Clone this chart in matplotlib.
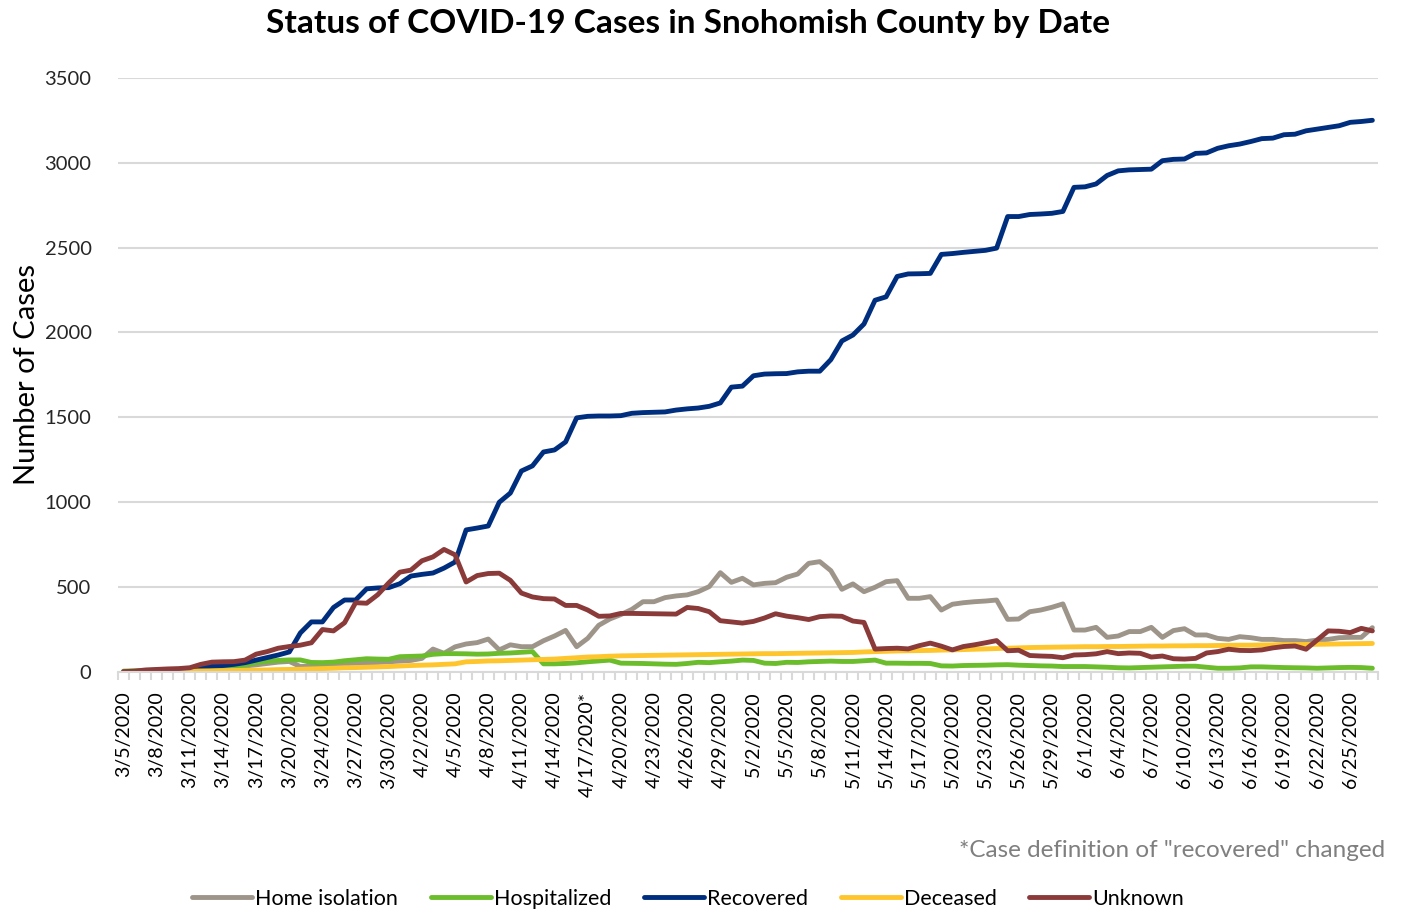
import numpy as np
import pandas as pd
import matplotlib
matplotlib.use("Agg")
import matplotlib.pyplot as plt

plt.rcParams["font.family"] = ["Lato", "DejaVu Sans"]

# dates 3/5 - 6/27 (3/22 has no report)
dates = [d for d in pd.date_range("2020-03-05", "2020-06-27") if d != pd.Timestamp("2020-03-22")]
date_labels = [f"{d.month}/{d.day}/{d.year}" for d in dates]
date_labels[date_labels.index("4/17/2020")] = "4/17/2020*"

home_isolation = [0, 1, 2, 3, 5, 8, 12, 16, 20, 25, 30, 35, 42, 50, 58, 62, 32, 35, 38, 42,
                  48, 52, 54, 56, 60, 64, 68, 80, 135, 110, 148, 165, 173, 194, 130, 160, 149, 149, 184, 212,
                  245, 149, 198, 275, 312, 338, 369, 414, 414, 438, 448, 454, 473, 503, 585, 528, 552, 513, 522, 526,
                  558, 577, 640, 650, 597, 487, 519, 473, 499, 532, 538, 434, 434, 444, 365, 399, 408, 414, 418, 424,
                  310, 312, 355, 365, 381, 401, 247, 247, 263, 204, 212, 238, 238, 263, 204, 244, 255, 218, 218, 198,
                  192, 208, 202, 192, 192, 185, 185, 179, 188, 192, 202, 204, 204, 261]
hospitalized = [5, 7, 9, 11, 13, 15, 18, 20, 24, 28, 33, 40, 55, 63, 68, 71, 71, 56, 55, 58,
                66, 72, 78, 76, 75, 90, 92, 94, 104, 108, 108, 107, 105, 106, 110, 112, 116, 120, 48, 48,
                50, 54, 60, 65, 70, 52, 51, 50, 48, 46, 45, 50, 57, 55, 60, 64, 70, 68, 52, 50,
                57, 56, 60, 62, 64, 62, 62, 66, 70, 52, 52, 51, 51, 50, 36, 35, 38, 39, 40, 42,
                43, 40, 38, 36, 35, 32, 32, 32, 30, 28, 25, 24, 26, 28, 30, 32, 34, 34, 28, 22,
                22, 24, 30, 30, 28, 26, 25, 24, 22, 24, 26, 27, 26, 22]
recovered = [0, 2, 5, 8, 10, 15, 20, 28, 33, 38, 45, 55, 70, 85, 100, 118, 230, 295, 295, 380,
             424, 424, 490, 495, 497, 520, 565, 575, 583, 612, 648, 837, 848, 860, 1000, 1054, 1184, 1214, 1296, 1308,
             1355, 1497, 1506, 1508, 1508, 1510, 1524, 1528, 1530, 1532, 1543, 1550, 1555, 1565, 1585, 1678, 1684, 1745, 1755, 1757,
             1758, 1768, 1772, 1772, 1840, 1950, 1985, 2050, 2190, 2210, 2330, 2345, 2346, 2348, 2460, 2465, 2472, 2478, 2484, 2497,
             2683, 2683, 2695, 2698, 2702, 2713, 2855, 2858, 2875, 2925, 2952, 2958, 2960, 2962, 3012, 3020, 3022, 3055, 3058, 3085,
             3100, 3110, 3125, 3142, 3145, 3165, 3168, 3188, 3198, 3208, 3218, 3238, 3243, 3250]
deceased = [0, 0, 1, 1, 2, 3, 5, 6, 7, 8, 9, 10, 11, 12, 14, 15, 16, 18, 20, 22,
            25, 26, 28, 30, 32, 35, 38, 40, 42, 45, 48, 60, 62, 65, 66, 68, 70, 72, 74, 76,
            80, 84, 88, 90, 93, 95, 96, 97, 98, 99, 100, 101, 102, 103, 104, 105, 106, 107, 108, 108,
            109, 110, 111, 112, 113, 114, 115, 118, 120, 122, 124, 125, 126, 127, 129, 130, 132, 134, 136, 138,
            140, 142, 144, 145, 146, 147, 148, 149, 149, 150, 150, 151, 152, 153, 153, 154, 154, 155, 155, 156,
            157, 158, 158, 159, 160, 161, 162, 162, 163, 164, 165, 166, 167, 168]
unknown = [2, 5, 12, 15, 18, 20, 25, 45, 58, 60, 61, 70, 105, 120, 140, 150, 158, 172, 250, 242,
           290, 408, 405, 455, 525, 588, 600, 655, 678, 722, 690, 530, 568, 580, 582, 540, 465, 442, 432, 430,
           392, 392, 365, 328, 330, 345, 345, 344, 343, 342, 341, 380, 374, 355, 302, 295, 288, 298, 318, 343,
           329, 320, 309, 326, 330, 328, 300, 292, 135, 138, 140, 136, 155, 170, 152, 130, 150, 160, 172, 185,
           125, 128, 97, 94, 92, 84, 100, 102, 107, 120, 108, 112, 110, 88, 94, 78, 76, 80, 112, 120,
           134, 127, 126, 130, 142, 150, 153, 134, 188, 242, 240, 232, 257, 242]

series_names = ["Home isolation", "Hospitalized", "Recovered", "Deceased", "Unknown"]
series_colors = ["#9E958A", "#6BBD2B", "#002E7F", "#FFC52C", "#8B3A3A"]

fig = plt.figure(figsize=(14.03, 9.16), dpi=100)
ax = fig.add_axes([0.0841, 0.2664, 0.898, 0.6486])

x = np.arange(len(date_labels))
for vals, name, col in zip([home_isolation, hospitalized, recovered, deceased, unknown],
                           series_names, series_colors):
    ax.plot(x, vals, color=col, lw=3.5, label=name, solid_joinstyle="round", solid_capstyle="round")

ax.set_xlim(-0.5, len(date_labels) - 0.5)
ax.set_ylim(0, 3500)
ax.set_yticks(range(0, 3501, 500))
ax.tick_params(axis="y", length=0, pad=19, labelsize=14.5, colors="#262626")
ax.grid(axis="y", color="#d9d9d9", lw=1.5)
ax.set_axisbelow(True)

ax.set_xticks(x[::3])
ax.set_xticklabels(date_labels[::3], rotation=90, fontsize=14, color="black")
ax.set_xticks(np.arange(-0.5, len(date_labels), 1), minor=True)
ax.tick_params(axis="x", which="major", length=0, pad=14)
ax.tick_params(axis="x", which="minor", length=6, width=1.5, color="#d9d9d9")

for side in ["top", "right", "left"]:
    ax.spines[side].set_visible(False)
ax.spines["bottom"].set_color("#d9d9d9")
ax.spines["bottom"].set_linewidth(1.5)

ax.set_ylabel("Number of Cases", fontsize=21)
ax.yaxis.set_label_coords(-0.062, 0.5)

fig.text(0.4905, 0.974, "Status of COVID-19 Cases in Snohomish County by Date",
         ha="center", va="center", fontsize=24, fontweight="bold")
fig.text(0.987, 0.071, '*Case definition of "recovered" changed',
         ha="right", va="center", fontsize=17.5, color="#7f7f7f")

fig.legend(loc="center", bbox_to_anchor=(0.4905, 0.019), ncol=5, frameon=False,
           fontsize=15.5, handlelength=2.8, handletextpad=0.15, columnspacing=1.5)

fig.savefig("out.png", dpi=100)
